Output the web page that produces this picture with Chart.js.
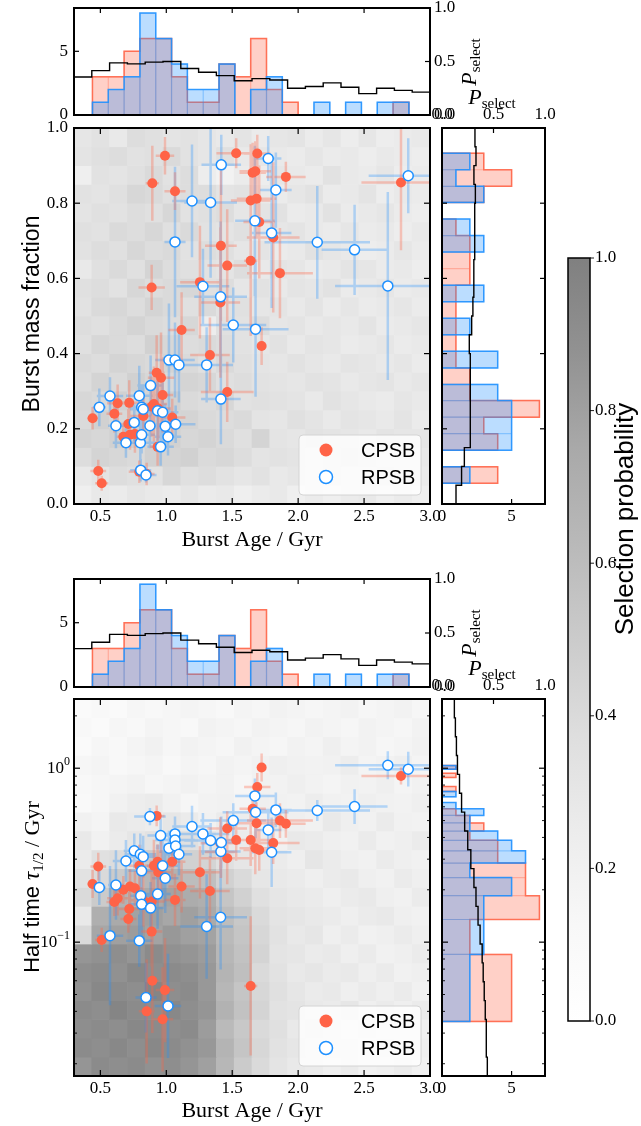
<!DOCTYPE html>
<html>
<head>
<meta charset="utf-8">
<title>Burst age, mass fraction and half time</title>
<script src="https://cdn.jsdelivr.net/npm/chart.js@4.4.1/dist/chart.umd.min.js"></script>
<style>
  html, body { margin: 0; padding: 0; background: #fff; }
  #fig { position: relative; width: 641px; height: 1126px; overflow: hidden; }
  #fig canvas { position: absolute; left: 0; top: 0; }
</style>
</head>
<body>
<div id="fig"></div>
<script>
// ---- marginal histograms: burst age ----
const ageEdges = [0.44, 0.56, 0.68, 0.80, 0.92, 1.04, 1.16, 1.28, 1.40, 1.52, 1.64, 1.76, 1.88, 2.00, 2.12, 2.24, 2.36, 2.48, 2.60, 2.72, 2.84];
const ageCountC = [3, 3, 5, 6, 6, 3, 1, 1, 4, 3, 6, 2, 1, 0, 0, 0, 0, 0, 0, 1];
const ageCountR = [1, 2, 3, 8, 6, 4, 2, 2, 4, 0, 2, 3, 0, 0, 1, 0, 1, 0, 1, 1];

// selection probability marginalised along burst age
const selAgeEdges = [0.3, 0.435, 0.57, 0.705, 0.84, 0.975, 1.11, 1.245, 1.38, 1.515, 1.65, 1.785, 1.92, 2.055, 2.19, 2.325, 2.46, 2.595, 2.73, 2.865, 3.0];
const selAge = [0.355, 0.415, 0.487, 0.478, 0.494, 0.50, 0.434, 0.40, 0.368, 0.32, 0.34, 0.327, 0.25, 0.267, 0.30, 0.26, 0.20, 0.25, 0.23, 0.214];

// ---- marginal histograms: burst mass fraction ----
const massEdges = [0.055, 0.099, 0.143, 0.187, 0.231, 0.275, 0.318, 0.362, 0.406, 0.450, 0.494, 0.538, 0.582, 0.626, 0.670, 0.714, 0.758, 0.802, 0.845, 0.889, 0.933];
const massCountC = [4, 0, 4, 3, 7, 2, 2, 1, 1, 1, 1, 1, 2, 2, 2, 1, 0, 3, 5, 3];
const massCountR = [2, 0, 5, 5, 5, 4, 0, 4, 0, 2, 0, 3, 0, 0, 3, 2, 0, 3, 1, 2];
const selMassEdges = [0, 0.05, 0.10, 0.15, 0.20, 0.25, 0.30, 0.35, 0.40, 0.45, 0.50, 0.55, 0.60, 0.65, 0.70, 0.75, 0.80, 0.85, 0.90, 0.95, 1.0];
const selMass = [0.136, 0.19, 0.217, 0.272, 0.272, 0.278, 0.278, 0.272, 0.265, 0.288, 0.30, 0.307, 0.31, 0.314, 0.317, 0.32, 0.324, 0.31, 0.33, 0.32];

// ---- marginal histograms: half time ----
const tauEdges = [0.035, 0.085, 0.135, 0.185, 0.235, 0.285, 0.335, 0.385, 0.435, 0.485, 0.535, 0.585, 0.635, 0.685, 0.735, 0.785, 0.835, 0.885, 0.935, 0.985, 1.035];
const tauCountC = [5, 2, 7, 6, 6, 4, 4, 2, 3, 2, 1, 0, 0, 0, 1, 0, 0, 1, 0, 1];
const tauCountR = [2, 3, 3, 5, 2, 6, 5, 4, 2, 2, 3, 1, 0, 1, 0, 0, 0, 0, 0, 1];
const selTauEdges = [0.017, 0.02182, 0.02801, 0.03593, 0.04611, 0.05919, 0.07597, 0.09752, 0.1252, 0.1606, 0.2062, 0.2646, 0.3396, 0.4359, 0.5595, 0.7181, 0.9215, 1.1828, 1.518, 1.948, 2.5];
const selTau = [0.44, 0.43, 0.43, 0.42, 0.41, 0.40, 0.39, 0.37, 0.35, 0.33, 0.31, 0.28, 0.25, 0.22, 0.19, 0.17, 0.15, 0.14, 0.13, 0.12];

// ---- selection probability maps (percent), rows listed top to bottom ----
const selGridMass = [
  [30, 34, 28, 38, 36, 32, 34, 30, 28, 32, 26, 30, 32, 26, 30, 24, 30, 24, 26, 28],
  [32, 36, 38, 34, 36, 40, 34, 30, 36, 28, 30, 28, 26, 30, 26, 28, 24, 28, 26, 24],
  [22, 34, 32, 36, 40, 34, 38, 24, 18, 26, 24, 30, 28, 26, 34, 28, 26, 30, 24, 26],
  [34, 32, 36, 42, 40, 36, 38, 38, 32, 34, 28, 26, 30, 34, 26, 28, 32, 24, 28, 26],
  [32, 36, 34, 38, 36, 42, 34, 36, 38, 30, 32, 34, 26, 28, 34, 26, 28, 30, 26, 24],
  [36, 34, 40, 38, 42, 36, 40, 34, 32, 36, 28, 30, 32, 28, 26, 30, 26, 28, 24, 28],
  [34, 38, 36, 42, 38, 40, 34, 38, 36, 30, 32, 26, 28, 34, 30, 28, 24, 26, 30, 26],
  [28, 36, 40, 36, 44, 38, 36, 34, 32, 38, 28, 32, 30, 26, 28, 32, 30, 26, 28, 24],
  [36, 38, 34, 42, 38, 40, 42, 36, 38, 30, 34, 28, 32, 30, 34, 26, 28, 30, 26, 28],
  [34, 40, 42, 38, 44, 40, 36, 40, 34, 36, 30, 32, 28, 32, 26, 30, 26, 28, 30, 26],
  [38, 36, 40, 44, 40, 38, 42, 24, 36, 34, 38, 30, 32, 28, 30, 28, 32, 26, 28, 30],
  [36, 42, 40, 38, 46, 42, 38, 40, 38, 34, 30, 34, 28, 32, 30, 26, 28, 30, 26, 28],
  [40, 38, 44, 42, 40, 44, 40, 36, 40, 36, 32, 30, 34, 30, 28, 32, 30, 28, 30, 26],
  [38, 44, 40, 46, 42, 40, 44, 42, 36, 38, 34, 32, 30, 34, 32, 28, 30, 32, 28, 30],
  [42, 40, 46, 42, 44, 46, 40, 38, 42, 34, 36, 34, 32, 28, 34, 30, 28, 26, 30, 28],
  [40, 46, 42, 44, 48, 42, 44, 40, 38, 40, 32, 30, 36, 32, 28, 32, 30, 28, 32, 26],
  [44, 42, 46, 48, 44, 46, 42, 44, 40, 36, 44, 32, 30, 34, 32, 30, 28, 32, 30, 30],
  [38, 44, 42, 40, 46, 44, 46, 40, 42, 38, 32, 34, 32, 28, 30, 34, 32, 28, 26, 28],
  [28, 32, 38, 36, 34, 42, 36, 38, 34, 30, 34, 28, 30, 26, 32, 28, 26, 30, 28, 26],
  [22, 28, 26, 30, 28, 26, 30, 26, 28, 22, 26, 28, 22, 26, 22, 26, 28, 22, 26, 22]
];
const selGridTau = [
  [8, 12, 8, 14, 12, 14, 16, 14, 12, 16, 14, 18, 16, 14, 16, 18, 14, 16, 18, 14],
  [12, 8, 14, 12, 16, 14, 12, 18, 16, 14, 18, 16, 14, 18, 16, 14, 18, 16, 14, 18],
  [8, 14, 12, 16, 20, 14, 18, 16, 14, 20, 16, 14, 18, 16, 22, 16, 18, 14, 16, 20],
  [14, 16, 12, 14, 16, 12, 16, 14, 18, 16, 20, 22, 20, 18, 20, 24, 16, 18, 22, 16],
  [12, 14, 16, 18, 14, 16, 20, 16, 18, 14, 20, 18, 22, 18, 16, 20, 18, 22, 16, 20],
  [10, 14, 20, 24, 26, 20, 14, 18, 20, 16, 22, 20, 18, 24, 20, 18, 22, 20, 18, 22],
  [20, 16, 28, 26, 24, 30, 26, 20, 26, 24, 18, 26, 22, 20, 28, 22, 20, 26, 20, 18],
  [28, 20, 26, 30, 34, 28, 36, 30, 28, 26, 24, 20, 28, 26, 22, 20, 26, 20, 22, 26],
  [26, 36, 38, 34, 50, 54, 46, 44, 36, 30, 28, 26, 22, 30, 26, 22, 20, 26, 22, 20],
  [34, 40, 50, 56, 64, 68, 60, 58, 46, 40, 30, 28, 26, 22, 26, 28, 22, 20, 26, 22],
  [40, 50, 68, 66, 74, 78, 72, 70, 54, 46, 36, 30, 28, 26, 22, 26, 28, 22, 20, 26],
  [28, 70, 74, 78, 80, 76, 80, 74, 60, 52, 40, 32, 30, 28, 26, 22, 26, 28, 22, 20],
  [40, 76, 80, 82, 78, 84, 80, 78, 62, 54, 42, 34, 28, 30, 22, 26, 20, 22, 26, 22],
  [86, 88, 90, 86, 92, 88, 86, 82, 64, 56, 44, 32, 30, 26, 28, 22, 26, 20, 22, 26],
  [90, 92, 88, 94, 90, 92, 90, 84, 66, 58, 40, 34, 28, 30, 26, 28, 22, 26, 20, 22],
  [88, 94, 92, 90, 96, 90, 92, 84, 64, 54, 42, 36, 30, 26, 28, 22, 26, 22, 26, 20],
  [92, 90, 96, 92, 90, 94, 90, 86, 68, 56, 44, 34, 32, 28, 26, 30, 22, 26, 22, 26],
  [90, 92, 90, 94, 92, 90, 92, 82, 62, 52, 40, 36, 28, 30, 26, 22, 26, 20, 22, 20],
  [92, 90, 94, 90, 94, 92, 88, 84, 66, 54, 42, 34, 30, 26, 28, 26, 22, 26, 20, 22],
  [86, 92, 90, 92, 88, 90, 86, 80, 64, 50, 40, 32, 28, 26, 22, 26, 20, 22, 26, 20]
];

// ---- CPSB galaxies ----
const ageC = [0.441, 0.484, 0.510, 0.606, 0.631, 0.674, 0.712, 0.719, 0.725, 0.762, 0.795, 0.826, 0.851, 0.889, 0.889, 0.894, 0.906, 0.927, 0.934, 0.939, 0.960, 0.972, 0.990, 1.045, 1.066, 1.116, 1.255, 1.331, 1.410, 1.414, 1.462, 1.462, 1.530, 1.640, 1.640, 1.655, 1.675, 1.685, 1.690, 1.705, 1.723, 1.811, 1.862, 1.907, 2.780];
const ageErrC = [0.04, 0.06, 0.05, 0.06, 0.08, 0.05, 0.06, 0.08, 0.08, 0.06, 0.08, 0.10, 0.06, 0.10, 0.08, 0.05, 0.10, 0.06, 0.06, 0.10, 0.10, 0.08, 0.07, 0.10, 0.08, 0.10, 0.15, 0.15, 0.15, 0.12, 0.15, 0.20, 0.15, 0.15, 0.05, 0.10, 0.12, 0.15, 0.10, 0.12, 0.03, 0.20, 0.25, 0.15, 0.30];
const massC = [0.228, 0.088, 0.055, 0.240, 0.268, 0.179, 0.213, 0.269, 0.184, 0.186, 0.086, 0.234, 0.080, 0.576, 0.259, 0.853, 0.266, 0.349, 0.152, 0.254, 0.336, 0.290, 0.926, 0.230, 0.832, 0.463, 0.590, 0.396, 0.536, 0.687, 0.634, 0.298, 0.933, 0.807, 0.647, 0.881, 0.885, 0.812, 0.932, 0.750, 0.420, 0.709, 0.614, 0.870, 0.855];
const massErrC = [0.03, 0.03, 0.02, 0.05, 0.05, 0.03, 0.04, 0.06, 0.04, 0.05, 0.03, 0.05, 0.03, 0.06, 0.08, 0.10, 0.10, 0.10, 0.05, 0.08, 0.12, 0.10, 0.05, 0.05, 0.05, 0.10, 0.15, 0.10, 0.20, 0.20, 0.15, 0.08, 0.04, 0.15, 0.20, 0.08, 0.08, 0.10, 0.05, 0.15, 0.05, 0.20, 0.12, 0.04, 0.18];
const tauC = [0.216, 0.272, 0.103, 0.170, 0.179, 0.200, 0.136, 0.155, 0.209, 0.204, 0.275, 0.174, 0.040, 0.171, 0.115, 0.060, 0.275, 0.532, 0.290, 0.252, 0.270, 0.036, 0.053, 0.290, 0.175, 0.209, 0.252, 0.197, 0.370, 0.330, 0.450, 0.304, 0.387, 0.387, 0.056, 0.584, 0.347, 0.483, 0.780, 0.339, 1.010, 0.371, 0.500, 0.479, 0.903];
const tauErrC = [0.08, 0.08, 0.07, 0.08, 0.10, 0.08, 0.08, 0.10, 0.10, 0.10, 0.12, 0.15, 0.30, 0.20, 0.20, 0.30, 0.15, 0.06, 0.10, 0.12, 0.15, 0.30, 0.30, 0.10, 0.15, 0.15, 0.15, 0.20, 0.15, 0.15, 0.10, 0.15, 0.12, 0.15, 0.40, 0.10, 0.15, 0.12, 0.08, 0.12, 0.08, 0.12, 0.10, 0.08, 0.05];

// ---- RPSB galaxies ----
const ageR = [0.492, 0.573, 0.618, 0.694, 0.757, 0.795, 0.803, 0.806, 0.813, 0.813, 0.825, 0.846, 0.876, 0.881, 0.934, 0.957, 0.972, 0.992, 1.013, 1.020, 1.066, 1.066, 1.071, 1.096, 1.195, 1.278, 1.306, 1.336, 1.412, 1.414, 1.417, 1.508, 1.672, 1.677, 1.773, 1.799, 1.831, 2.145, 2.428, 2.680, 2.835];
const ageErrR = [0.05, 0.10, 0.06, 0.10, 0.08, 0.10, 0.12, 0.08, 0.10, 0.10, 0.10, 0.08, 0.12, 0.10, 0.10, 0.10, 0.12, 0.10, 0.10, 0.10, 0.08, 0.15, 0.15, 0.10, 0.15, 0.20, 0.20, 0.20, 0.20, 0.15, 0.15, 0.25, 0.15, 0.25, 0.10, 0.15, 0.12, 0.40, 0.25, 0.40, 0.30];
const massR = [0.257, 0.287, 0.208, 0.163, 0.217, 0.288, 0.163, 0.090, 0.257, 0.184, 0.252, 0.077, 0.208, 0.315, 0.248, 0.152, 0.244, 0.207, 0.179, 0.383, 0.697, 0.383, 0.212, 0.370, 0.806, 0.579, 0.370, 0.802, 0.551, 0.279, 0.902, 0.476, 0.753, 0.465, 0.919, 0.721, 0.835, 0.696, 0.676, 0.580, 0.873];
const massErrR = [0.05, 0.05, 0.06, 0.04, 0.05, 0.08, 0.05, 0.03, 0.06, 0.05, 0.06, 0.02, 0.06, 0.08, 0.08, 0.05, 0.08, 0.06, 0.05, 0.15, 0.20, 0.10, 0.05, 0.10, 0.15, 0.10, 0.10, 0.20, 0.20, 0.12, 0.08, 0.10, 0.20, 0.18, 0.06, 0.20, 0.10, 0.15, 0.12, 0.25, 0.10];
const tauR = [0.206, 0.109, 0.213, 0.293, 0.335, 0.102, 0.320, 0.185, 0.257, 0.165, 0.310, 0.048, 0.527, 0.157, 0.189, 0.410, 0.275, 0.233, 0.043, 0.347, 0.419, 0.387, 0.357, 0.320, 0.462, 0.419, 0.123, 0.384, 0.139, 0.332, 0.374, 0.500, 0.693, 0.558, 0.442, 0.329, 0.576, 0.571, 0.602, 1.040, 0.987];
const tauErrR = [0.10, 0.40, 0.20, 0.12, 0.10, 0.15, 0.12, 0.15, 0.15, 0.20, 0.12, 0.20, 0.05, 0.15, 0.20, 0.10, 0.15, 0.20, 0.30, 0.10, 0.10, 0.10, 0.10, 0.12, 0.12, 0.12, 0.30, 0.10, 0.30, 0.15, 0.15, 0.10, 0.10, 0.15, 0.12, 0.20, 0.10, 0.06, 0.10, 0.08, 0.10];

// ---- page layout ----
const W = 641, H = 1126;
const SERIF = '"Liberation Serif", "DejaVu Serif", serif';
const SANS = '"Liberation Sans", Arial, sans-serif';
const RED = '255,99,71', BLUE = '30,144,255';
const FR = {
  top1: [74, 8, 430, 115], main1: [74, 128, 430, 504], side1: [442, 128, 545, 504],
  top2: [74, 579, 430, 687], main2: [74, 699, 430, 1076], side2: [442, 699, 545, 1076],
  cbar: [568, 258, 590, 1021]
};
// Greys colormap at half opacity, sampled every 1/8
const greyStops = [255, 247.5, 236, 222, 202.5, 185, 168.5, 146, 127.5];
function grey(v) {
  const f = Math.min(Math.max(v, 0), 1) * 8, i = Math.min(Math.floor(f), 7);
  const g = Math.round(greyStops[i] + (greyStops[i + 1] - greyStops[i]) * (f - i));
  return `rgb(${g},${g},${g})`;
}

const majorAge = [0.5, 1.0, 1.5, 2.0, 2.5];
const logMinor = [];
[0.01, 0.1, 1].forEach(d => { for (let k = 2; k <= 9; k++) { const v = k * d; if (v > 0.017 && v < 2.5) logMinor.push(v); } });

// ---- helpers ----
function outline(edges, counts, vertical) {
  const P = (v, e) => vertical ? {x: v, y: e} : {x: e, y: v};
  const pts = [P(0, edges[0])];
  counts.forEach((c, i) => { pts.push(P(c, edges[i]), P(c, edges[i + 1])); });
  pts.push(P(0, edges[edges.length - 1]));
  return pts;
}
function binRects(edges, counts, vertical) {
  const pts = [];
  counts.forEach((c, i) => {
    if (!c) return;
    const a = edges[i], b = edges[i + 1];
    const q = vertical ? [[0, a], [c, a], [c, b], [0, b], [0, a]] : [[a, 0], [a, c], [b, c], [b, 0], [a, 0]];
    q.forEach(([x, y]) => pts.push({x, y}));
    pts.push({x: null, y: null});
  });
  return pts;
}
function stepLine(edges, vals, vertical) {
  const pts = [];
  vals.forEach((v, i) => {
    if (vertical) pts.push({x: v, y: edges[i]}, {x: v, y: edges[i + 1]});
    else pts.push({x: edges[i], y: v}, {x: edges[i + 1], y: v});
  });
  return pts;
}
function errBars(xs, xe, ys, ye, logY) {
  const pts = [];
  xs.forEach((x, i) => {
    const y = ys[i];
    pts.push({x: x - xe[i], y}, {x: x + xe[i], y}, {x, y: null});
    const lo = logY ? y / Math.pow(10, ye[i]) : y - ye[i];
    const hi = logY ? y * Math.pow(10, ye[i]) : y + ye[i];
    pts.push({x, y: lo}, {x, y: hi}, {x, y: null});
  });
  return pts;
}
function heatSets(xEdges, yEdges, rowsTopDown) {
  const n = rowsTopDown.length;
  const xc = xEdges.slice(0, -1).map((e, j) => (e + xEdges[j + 1]) / 2);
  return rowsTopDown.map((row, r) => {
    const i = n - 1 - r;
    return {
      type: 'bar', order: 20, grouped: false, barPercentage: 1, categoryPercentage: 1, borderWidth: 0,
      data: row.map((v, j) => ({x: xc[j], y: [yEdges[i], yEdges[i + 1]]})),
      backgroundColor: row.map(v => grey(v / 100))
    };
  });
}
function histSets(edges, countsC, countsR, vertical, selEdges, sel) {
  const line = (data, extra) => Object.assign({type: 'line', data, pointRadius: 0, fill: false}, extra);
  const sets = [
    line(binRects(edges, countsR, vertical), {borderColor: `rgba(${BLUE},0.35)`, borderWidth: 1.2, order: 1}),
    line(outline(edges, countsR, vertical), {fill: 'shape', backgroundColor: `rgba(${BLUE},0.3)`, borderColor: `rgba(${BLUE},0.85)`, borderWidth: 1.5, order: 2}),
    line(binRects(edges, countsC, vertical), {borderColor: `rgba(${RED},0.35)`, borderWidth: 1.2, order: 3}),
    line(outline(edges, countsC, vertical), {fill: 'shape', backgroundColor: `rgba(${RED},0.3)`, borderColor: `rgba(${RED},0.85)`, borderWidth: 1.5, order: 4})
  ];
  const p = line(stepLine(selEdges, sel, vertical), {borderColor: '#000', borderWidth: 1.4, order: 0});
  if (vertical) p.xAxisID = 'p'; else p.yAxisID = 'p';
  sets.push(p);
  return sets;
}
// chart area lands exactly on the frame; s holds the room given to each side's tick labels
function pad(f, s = {}) {
  return {padding: {left: f[0] - (s.left || 0), top: f[1] - (s.top || 0),
    right: W - f[2] - (s.right || 0), bottom: H - f[3] - (s.bottom || 0)}};
}
function ax(o) {
  const a = {
    type: o.type || 'linear', position: o.pos, min: o.min, max: o.max, bounds: 'data', display: true,
    grid: {display: false, drawTicks: false}, border: {display: false},
    afterFit: s => {
      if (s.isHorizontal()) s.height = o.size || 0; else s.width = o.size || 0;
      s.paddingLeft = s.paddingRight = s.paddingTop = s.paddingBottom = 0;
    },
    ticks: {
      display: !!o.labels, autoSkip: false, maxRotation: 0, minRotation: 0, padding: o.padding ?? 6, color: '#000',
      font: {family: SERIF, size: 17}, callback: o.labels || (() => '')
    }
  };
  if (o.ticks) a.afterBuildTicks = s => { s.ticks = o.ticks.map(v => ({value: v})); };
  if (a.type !== 'category') a.offset = false;
  return a;
}
function drawText(c, chart, t) {
  const y = t.at ? chart.scales[t.at[0]].getPixelForValue(t.at[1]) : t.y;
  c.save();
  c.translate(t.x, y);
  if (t.rot) c.rotate(t.rot);
  c.fillStyle = '#000'; c.textBaseline = 'middle'; c.textAlign = 'left';
  let w = 0;
  t.parts.forEach(p => { c.font = p.font; w += c.measureText(p.t).width; });
  let cx = t.align === 'right' ? -w : -w / 2;
  t.parts.forEach(p => { c.font = p.font; c.fillText(p.t, cx, p.dy || 0); cx += c.measureText(p.t).width; });
  c.restore();
}
function drawLegend(c, L) {
  c.save();
  c.beginPath(); c.roundRect(L[0], L[1], L[2] - L[0], L[3] - L[1], 4);
  c.fillStyle = 'rgba(255,255,255,0.8)'; c.fill();
  c.strokeStyle = '#d4d4d4'; c.lineWidth = 1; c.stroke();
  [['CPSB', `rgb(${RED})`, null], ['RPSB', '#fff', `rgb(${BLUE})`]].forEach(([label, fill, stroke], i) => {
    const y = L[1] + 15 + i * 27;
    c.beginPath(); c.arc(L[0] + 27, y, 6.5, 0, 2 * Math.PI);
    c.fillStyle = fill; c.fill();
    if (stroke) { c.strokeStyle = stroke; c.lineWidth = 1.5; c.stroke(); }
    c.fillStyle = '#000'; c.font = `20px ${SANS}`; c.textBaseline = 'middle'; c.textAlign = 'left';
    c.fillText(label, L[0] + 62, y + 1);
  });
  c.restore();
}
// frame, inward tick marks, legend and free text drawn over each panel
function decor(cfg) {
  return {
    id: 'decor',
    afterDatasetsDraw(chart) {
      const c = chart.ctx, a = chart.chartArea;
      c.save();
      c.strokeStyle = '#000';
      (cfg.ticks || []).forEach(([id, side, vals, len]) => {
        const s = chart.scales[id];
        c.lineWidth = Math.abs(len) > 4 ? 1.2 : 0.9;
        vals.forEach(v => {
          const p = s.getPixelForValue(v);
          c.beginPath();
          if (side === 'left') { c.moveTo(a.left, p); c.lineTo(a.left + len, p); }
          if (side === 'right') { c.moveTo(a.right, p); c.lineTo(a.right - len, p); }
          if (side === 'top') { c.moveTo(p, a.top); c.lineTo(p, a.top + len); }
          if (side === 'bottom') { c.moveTo(p, a.bottom); c.lineTo(p, a.bottom - len); }
          c.stroke();
        });
      });
      c.lineWidth = cfg.frameWidth || 2;
      c.strokeRect(a.left, a.top, a.right - a.left, a.bottom - a.top);
      c.restore();
      if (cfg.legend) drawLegend(c, cfg.legend);
      (cfg.texts || []).forEach(t => drawText(c, chart, t));
    }
  };
}
function panel(config) {
  const cv = document.createElement('canvas');
  cv.width = W; cv.height = H; cv.style.width = W + 'px'; cv.style.height = H + 'px';
  document.getElementById('fig').appendChild(cv);
  config.options = Object.assign({
    responsive: false, animation: false, events: [], devicePixelRatio: 1,
    plugins: {legend: {display: false}, tooltip: {enabled: false}}
  }, config.options);
  return new Chart(cv, config);
}

const pRot = (x, y) => ({x, y, rot: -Math.PI / 2, parts: [
  {t: 'P', font: `italic 22px ${SERIF}`}, {t: 'select', font: `15px ${SERIF}`, dy: 6}]});
const pFlat = (x, y) => ({x, y, parts: [
  {t: 'P', font: `italic 22px ${SERIF}`}, {t: 'select', font: `15px ${SERIF}`, dy: 6}]});
const ageTitle = (y) => ({x: 252, y, parts: [{t: 'Burst Age / Gyr', font: `22px ${SERIF}`}]});

// ---- age histograms above each scatter panel ----
function topHist(frame, texts) {
  return panel({
    type: 'line',
    data: {datasets: histSets(ageEdges, ageCountC, ageCountR, false, selAgeEdges, selAge)},
    options: {
      layout: pad(frame, {left: 40, right: 40}),
      scales: {
        x: ax({min: 0.3, max: 3.0, pos: 'bottom'}),
        y: ax({min: 0, max: 8.4, pos: 'left', size: 40, ticks: [0, 5], labels: v => String(v), padding: 6}),
        p: ax({min: 0, max: 1, pos: 'right', size: 40, ticks: [0, 0.5, 1], labels: v => v.toFixed(1), padding: 4})
      }
    },
    plugins: [decor({ticks: [['x', 'top', majorAge, 5], ['y', 'left', [5], 5], ['p', 'right', [0.5], 5]], texts})]
  });
}
topHist(FR.top1, [pRot(470, 62)]);
topHist(FR.top2, [pRot(470, 633)]);

// ---- scatter panels ----
function mainPanel(frame, yData, logY, grid, gridEdges, legend, texts) {
  const [yC, yeC, yR, yeR] = yData;
  const yAxis = logY
    ? ax({type: 'logarithmic', min: 0.017, max: 2.5, pos: 'left', size: 60, ticks: [0.1, 1]})
    : ax({min: 0, max: 1, pos: 'left', size: 60, ticks: [0, 0.2, 0.4, 0.6, 0.8, 1.0], labels: v => v.toFixed(1), padding: 6});
  const yTicks = logY
    ? [['y', 'left', [0.1, 1], 6], ['y', 'right', [0.1, 1], 6], ['y', 'left', logMinor, 3], ['y', 'right', logMinor, 3]]
    : [['y', 'left', [0.2, 0.4, 0.6, 0.8], 6], ['y', 'right', [0.2, 0.4, 0.6, 0.8], 6]];
  return panel({
    type: 'line',
    data: {datasets: [
      {type: 'scatter', data: ageR.map((x, i) => ({x, y: yR[i]})), pointRadius: 5, pointBackgroundColor: '#fff',
        pointBorderColor: `rgb(${BLUE})`, pointBorderWidth: 1.5, order: 1},
      {type: 'scatter', data: ageC.map((x, i) => ({x, y: yC[i]})), pointRadius: 5, pointBackgroundColor: `rgb(${RED})`,
        pointBorderWidth: 0, order: 2},
      {type: 'line', data: errBars(ageC, ageErrC, yC, yeC, logY), borderColor: `rgba(${RED},0.33)`, borderWidth: 2.5,
        pointRadius: 0, fill: false, order: 4},
      {type: 'line', data: errBars(ageR, ageErrR, yR, yeR, logY), borderColor: `rgba(${BLUE},0.3)`, borderWidth: 2.5,
        pointRadius: 0, fill: false, order: 5},
      ...heatSets(selAgeEdges, gridEdges, grid)
    ]},
    options: {
      layout: pad(frame, {left: 60, bottom: 30}),
      scales: {
        x: ax({min: 0.3, max: 3.0, pos: 'bottom', size: 30, ticks: [0.5, 1.0, 1.5, 2.0, 2.5, 3.0], labels: v => v.toFixed(1), padding: 2}),
        y: yAxis
      }
    },
    plugins: [decor({ticks: [['x', 'top', majorAge, 6], ['x', 'bottom', majorAge, 6], ...yTicks], legend, texts})]
  });
}
mainPanel(FR.main1, [massC, massErrC, massR, massErrR], false, selGridMass, selMassEdges, [299, 435, 421, 495], [
  ageTitle(540),
  {x: 33, y: 314, rot: -Math.PI / 2, parts: [{t: 'Burst mass fraction', font: `23px ${SANS}`}]}
]);
mainPanel(FR.main2, [tauC, tauErrC, tauR, tauErrR], true, selGridTau, selTauEdges, [299, 1006, 421, 1066], [
  ageTitle(1111),
  {x: 33, y: 887, rot: -Math.PI / 2, parts: [
    {t: 'Half time ', font: `22px ${SANS}`}, {t: 'τ', font: `italic 23px ${SERIF}`},
    {t: '1/2', font: `15px ${SERIF}`, dy: 6}, {t: ' / Gyr', font: `22px ${SERIF}`}]},
  {x: 70, at: ['y', 1], align: 'right', parts: [{t: '10', font: `17px ${SERIF}`}, {t: '0', font: `12px ${SERIF}`, dy: -6}]},
  {x: 70, at: ['y', 0.1], align: 'right', parts: [{t: '10', font: `17px ${SERIF}`}, {t: '−1', font: `12px ${SERIF}`, dy: -6}]}
]);

// ---- histograms along the right of each scatter panel ----
function sideHist(frame, edges, countsC, countsR, selEdges, sel, yAxis, yTicks, texts) {
  return panel({
    type: 'line',
    data: {datasets: histSets(edges, countsC, countsR, true, selEdges, sel)},
    options: {
      layout: pad(frame, {top: 30, bottom: 30}),
      scales: {
        x: ax({min: 0, max: 7.4, pos: 'bottom', size: 30, ticks: [0, 5], labels: v => String(v), padding: 2}),
        p: ax({min: 0, max: 1, pos: 'top', size: 30, ticks: [0, 0.5, 1], labels: v => v.toFixed(1), padding: 3}),
        y: yAxis
      }
    },
    plugins: [decor({ticks: [['x', 'bottom', [5], 5], ['p', 'top', [0.5], 5], ...yTicks], texts})]
  });
}
sideHist(FR.side1, massEdges, massCountC, massCountR, selMassEdges, selMass,
  ax({min: 0, max: 1, pos: 'left'}),
  [['y', 'right', [0.2, 0.4, 0.6, 0.8], 5], ['y', 'left', [0.2, 0.4, 0.6, 0.8], 5]],
  [pFlat(492, 98)]);
sideHist(FR.side2, tauEdges, tauCountC, tauCountR, selTauEdges, selTau,
  ax({type: 'logarithmic', min: 0.017, max: 2.5, pos: 'left'}),
  [['y', 'right', [0.1, 1], 6], ['y', 'right', logMinor, 3], ['y', 'left', [0.1, 1], 6], ['y', 'left', logMinor, 3]],
  [pFlat(492, 669)]);

// ---- colour bar ----
function cbarGradient(chart) {
  const a = chart.chartArea;
  if (!a) return 'rgba(0,0,0,0)';
  const g = chart.ctx.createLinearGradient(0, a.bottom, 0, a.top);
  greyStops.forEach((s, i) => { const v = Math.round(s); g.addColorStop(i / 8, `rgb(${v},${v},${v})`); });
  return g;
}
panel({
  type: 'bar',
  data: {labels: ['p'], datasets: [{data: [[0, 1]], backgroundColor: ctx => cbarGradient(ctx.chart), borderWidth: 0,
    barPercentage: 1, categoryPercentage: 1}]},
  options: {
    layout: pad(FR.cbar, {right: 40}),
    scales: {
      x: Object.assign(ax({pos: 'bottom'}), {type: 'category', offset: true}),
      y: ax({min: 0, max: 1, pos: 'right', size: 40, ticks: [0, 0.2, 0.4, 0.6, 0.8, 1.0], labels: v => v.toFixed(1), padding: 5})
    }
  },
  plugins: [decor({frameWidth: 1.5, ticks: [['y', 'right', [0, 0.2, 0.4, 0.6, 0.8, 1.0], -4]],
    texts: [{x: 626, y: 519, rot: -Math.PI / 2, parts: [{t: 'Selection probability', font: `26px ${SANS}`}]}]})]
});
</script>
</body>
</html>
